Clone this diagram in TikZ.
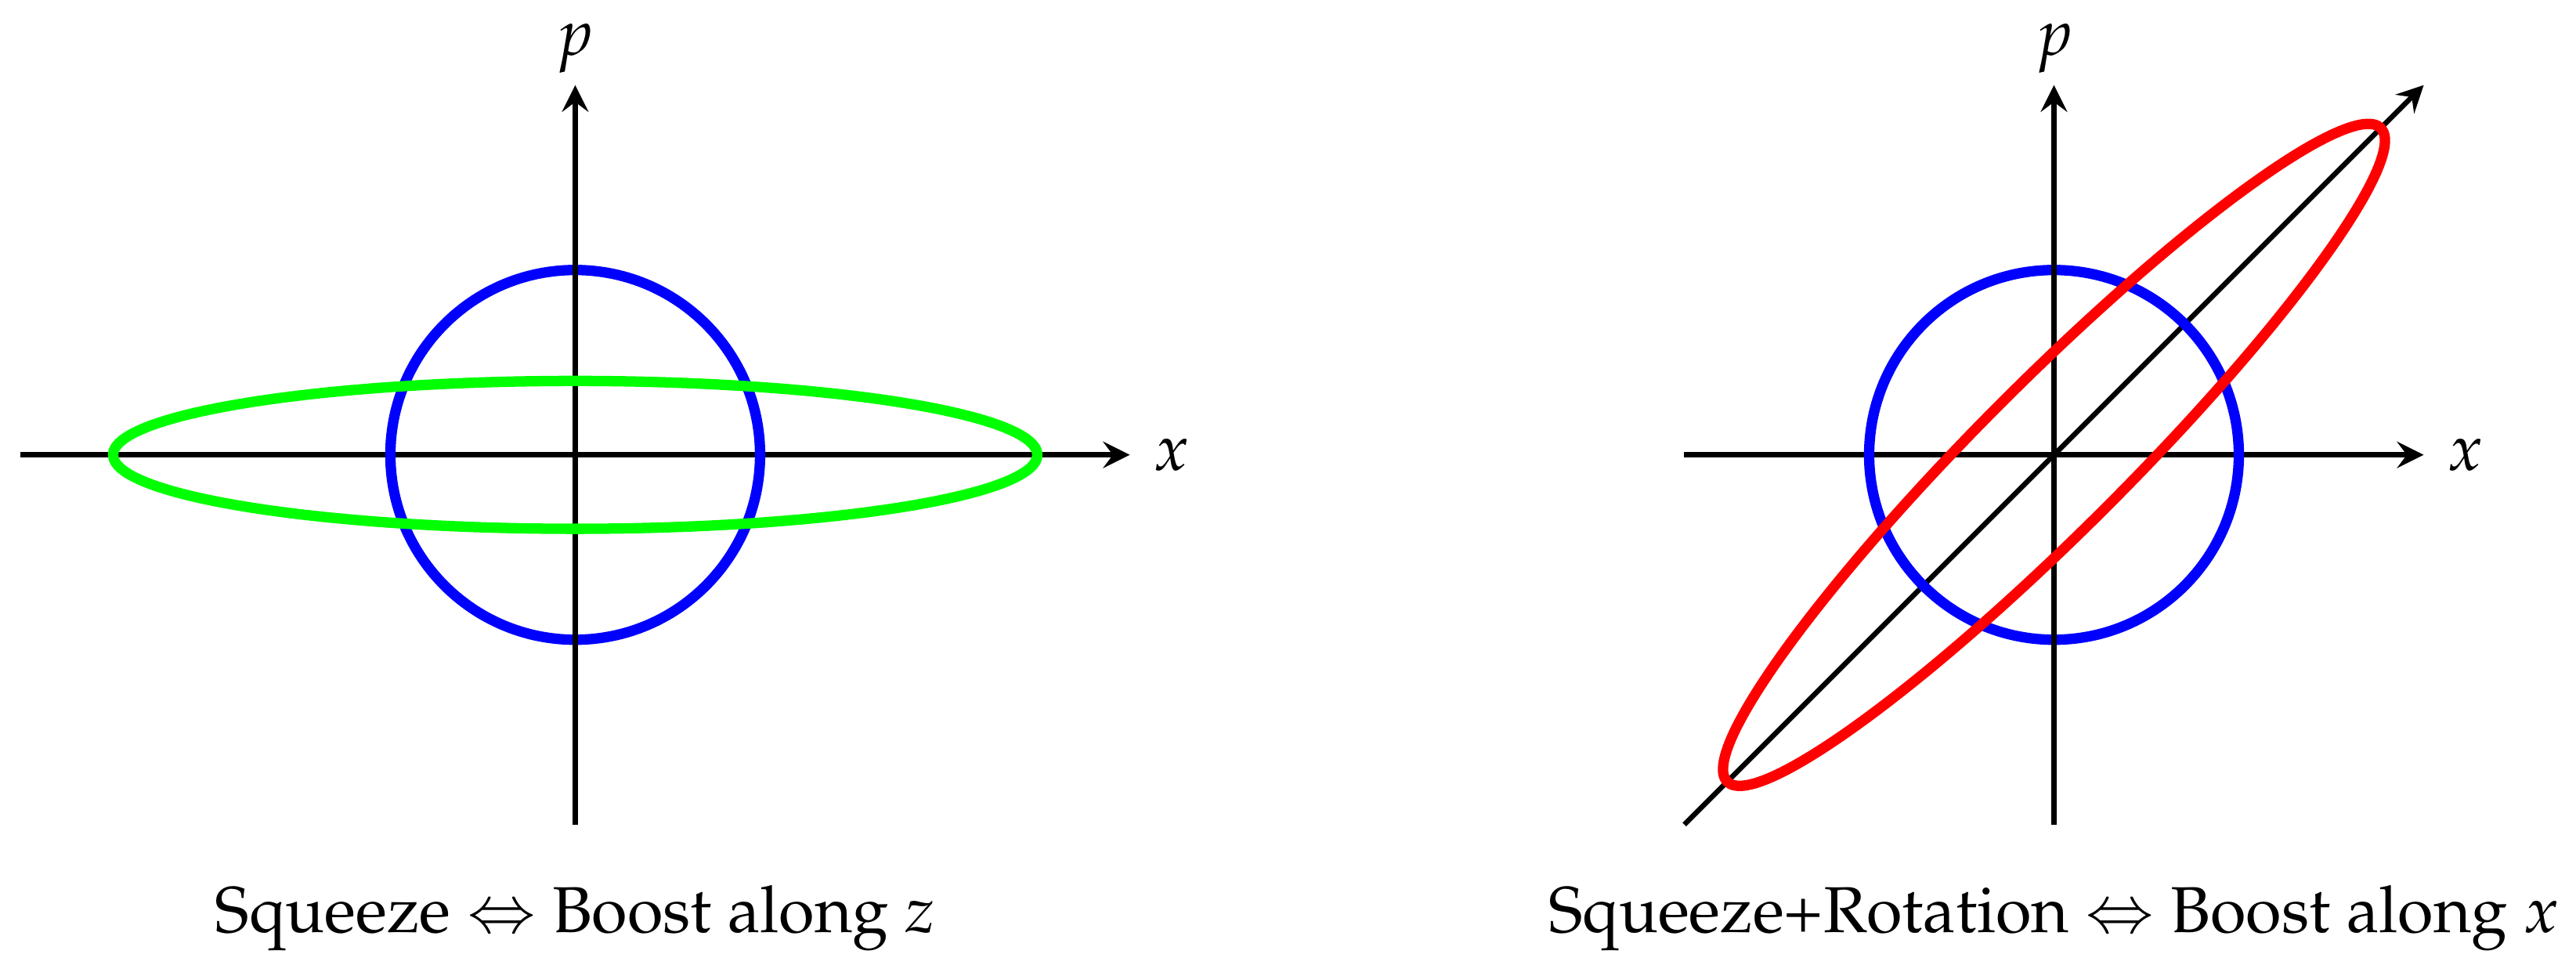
\documentclass[tikz,border=0pt]{standalone}
\usepackage[T1]{fontenc}
\usepackage{mathpazo}
\tikzset{
    axisline/.style={thick,-stealth},
    orbit/.style={ultra thick},
}
\begin{document}
\begin{tikzpicture}
            \useasboundingbox (-3.112,-2.7555) rectangle (10.824,2.4606);
            % squeeze
            \draw[axisline] (-3,0) -- (3,0) node[right] (xa) {$x$};
            \draw[orbit,blue] (0,0) circle[radius=1];
            \draw[axisline] (0,-2) -- (0,2);
            \node[anchor=base] (pa) at (0,2.164) {$p$};
            \draw[orbit,green] (0,0) ellipse[x radius=2.5,y radius=0.4];
            \node[anchor=base] (ca) at (0,-2.582) {Squeeze $\Leftrightarrow$ Boost along $z$};
            % squeeze + rotation
            \begin{scope}[xshift=8cm]
            \draw[axisline] (-2,0) -- (2,0) node[right] (xb) {$x$};
            \draw[axisline] (-2,-2) -- (2,2);
            \draw[orbit,blue] (0,0) circle[radius=1];
            \draw[axisline] (0,-2) -- (0,2);
            \node[anchor=base] (pb) at (0,2.164) {$p$};
            \draw[orbit,red,rotate=45] (0,0) ellipse[x radius=2.5,y radius=0.4];
            \node[anchor=base] (cb) at (0,-2.582) {Squeeze+Rotation $\Leftrightarrow$ Boost along $x$};
            \end{scope}
\end{tikzpicture}
\end{document}
